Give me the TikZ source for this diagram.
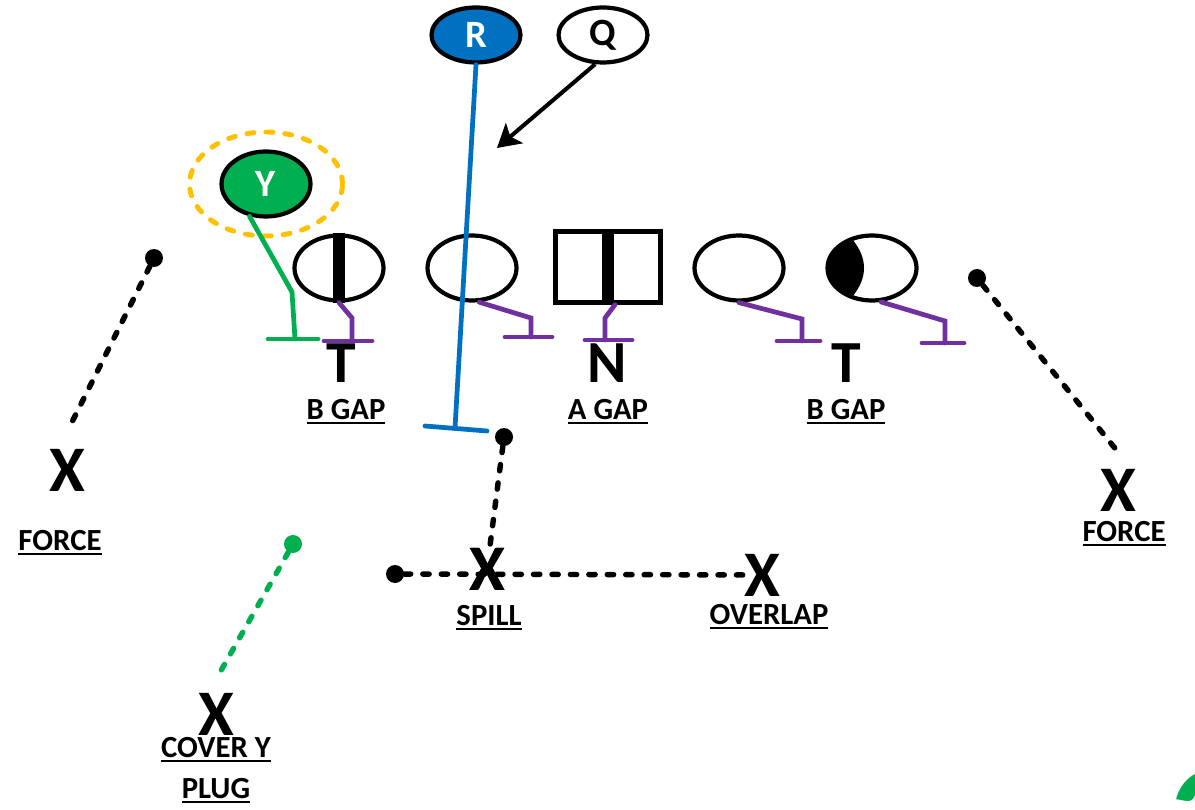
\documentclass[tikz,border=0pt]{standalone}
\usepackage{fontspec}
\setmainfont{Carlito}
\usetikzlibrary{positioning,arrows.meta,shapes.geometric}
\definecolor{runblue}{HTML}{0070C0}
\definecolor{ygreen}{HTML}{00B050}
\definecolor{blockpurple}{HTML}{7030A0}
\definecolor{keyorange}{HTML}{FFC000}
\newcommand{\ulabel}[1]{\leavevmode\vtop{\hbox{#1}\kern1.3pt\hrule height1.1pt}}

\begin{document}
\begin{tikzpicture}[
			x=0.02cm, y=-0.02cm,
			back/.style={
				draw,
				ellipse,
				line width=2.4pt,
				minimum width=1.78cm,
				minimum height=1.1cm,
				inner sep=0pt,
				font=\bfseries\fontsize{22}{22}\selectfont
			},
			lineman/.style={
				draw,
				ellipse,
				line width=2.4pt,
				minimum width=1.78cm,
				minimum height=1.3cm,
				inner sep=0pt
			},
			center/.style={
				draw,
				rectangle,
				line width=2.4pt,
				minimum width=2.1cm,
				minimum height=1.42cm
			},
			defender/.style={
				inner sep=0pt,
				font=\bfseries\fontsize{37}{37}\selectfont
			},
			dline/.style={
				inner sep=0pt,
				font=\bfseries\fontsize{34}{34}\selectfont
			},
			tag/.style={
				inner sep=0pt,
				align=center,
				font=\bfseries\fontsize{17.5}{23}\selectfont
			},
			spot/.style={
				circle,
				fill,
				inner sep=0pt,
				minimum size=0.36cm
			},
			block/.style={
				blockpurple,
				line width=2.7pt,
				line cap=round
			},
			route/.style={
				line width=2.7pt,
				line cap=round
			},
			dotline/.style={
				line width=3.1pt,
				line cap=round,
				dash pattern=on 3.6pt off 6.9pt
			}
			]
			
			\useasboundingbox (0,0) rectangle (1195,810);
			\clip (0,0) rectangle (1195,810);
			
			% Backs
			\node[back, fill=runblue, text=white] (R) at (476,35) {R};
			\node[back, fill=white] (Q) at (603,35) {Q};
			\node[lineman, fill=ygreen, text=white, font=\bfseries\fontsize{22}{22}\selectfont] (Y) at (266,184) {Y};
			\draw[keyorange, line width=2.8pt, line cap=round, dash pattern=on 4pt off 6.8pt]
				(Y.center) ellipse [x radius=1.53cm, y radius=1.04cm];
			
			% Offensive line
			\node[lineman] (lt) at (339,268) {};
			\node[lineman] (lg) at (472,268) {};
			\node[center] (c) at (608,267) {};
			\node[lineman] (rg) at (739,268) {};
			\node[lineman] (rt) at (872,268) {};
			\draw[line width=6.8pt] (lt.north) -- (lt.south);
			\draw[line width=6.8pt] (c.north) -- (c.south);
			\begin{scope}
				\clip (rt.center) ellipse [x radius=0.89cm, y radius=0.65cm];
				\fill (852,230) -- (852,239) .. controls (868,258) and (868,278) .. (852,297)
					-- (852,306) -- (820,306) -- (820,230) -- cycle;
			\end{scope}
			
			% Front and gaps
			\node[dline] (t1) at (341,363) {T};
			\node[dline] (n) at (607,363) {N};
			\node[dline] (t2) at (846,363) {T};
			\node[tag] (bgap1) at (346,412) {\ulabel{B GAP}};
			\node[tag] (agap) at (608,412) {\ulabel{A GAP}};
			\node[tag] (bgap2) at (846,412) {\ulabel{B GAP}};
			
			% Defenders
			\node[defender] (fl) at (67,470) {X};
			\node[tag] (forcel) at (60,543) {\ulabel{FORCE}};
			\node[defender] (fr) at (1118,490) {X};
			\node[tag] (forcer) at (1124,534) {\ulabel{FORCE}};
			\node[defender] (spill) at (487,569) {X};
			\node[tag] (spilltag) at (489,618) {\ulabel{SPILL}};
			\node[defender] (over) at (762,575) {X};
			\node[tag] (overtag) at (769,617) {\ulabel{OVERLAP}};
			\node[defender] (cov) at (216,714) {X};
			\node[tag] (covtag) at (216,770) {\ulabel{COVER Y}\\\ulabel{PLUG}};
			
			% Spots
			\node[spot] (fldot) at (154,258) {};
			\node[spot] (frdot) at (977,278) {};
			\node[spot] (spdot) at (504,437) {};
			\node[spot] (ovdot) at (395,574) {};
			\node[spot, ygreen] (cvdot) at (293,544) {};
			\coordinate (flend) at (72,422);
			\coordinate (frend) at (1118,452);
			\coordinate (cvend) at (219,674);
			
			% Blocks
			\draw[block] (lt.south) -- (352,318) -- (352,340);
			\draw[block] (324,341) -- (372,341);
			\draw[block] (lg.-78) -- (531,318) -- (531,337);
			\draw[block] (505,337) -- (552,337);
			\draw[block] ([xshift=0.14cm]c.south) -- (605,318) -- (605,340);
			\draw[block] (585,340) -- (632,340);
			\draw[block] (rg.south) -- (802,319) -- (802,341);
			\draw[block] (777,341) -- (820,341);
			\draw[block] (rt.-75) -- (945,321) -- (945,343);
			\draw[block] (922,343) -- (964,343);
			
			% Routes
			\draw[route, ygreen] (Y.-117) -- (292,292) -- (295,339);
			\draw[route, ygreen] (268,339) -- (318,339);
			\coordinate (rend) at (455,428);
			\draw[route, runblue] (R.south) -- (rend);
			\draw[route, runblue] (425,426) -- (487,431);
			\coordinate (qend) at (497,148);
			\draw[line width=2.3pt, -{Stealth[length=13pt, width=15pt, inset=3pt]}] (Q.-105) -- (qend);
			
			% Pursuit lines
			\draw[dotline] (fldot) -- (flend);
			\draw[dotline] (frdot) -- (frend);
			\draw[dotline] (spdot) -- (spill);
			\draw[dotline] (ovdot) -- (over);
			\draw[dotline, ygreen] (cvdot) -- (cvend);
			\node[defender] at (spill) {X};
			
			\node[anchor=north west, ygreen, inner sep=0pt,
				font=\bfseries\itshape\fontsize{90}{90}\selectfont] (pg) at (1162,770) {2};
			
		\end{tikzpicture}
\end{document}
